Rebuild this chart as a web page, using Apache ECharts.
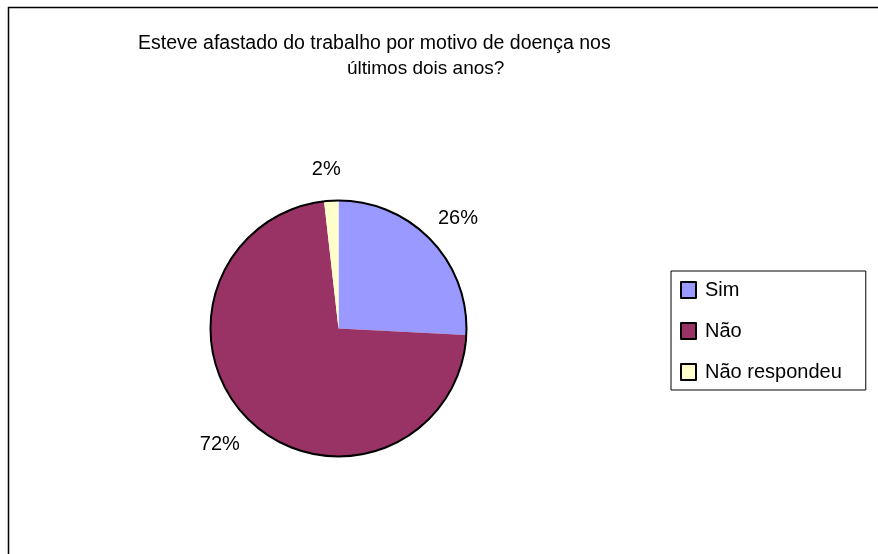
<!DOCTYPE html>
<html>
<head>
<meta charset="utf-8">
<script src="https://cdn.jsdelivr.net/npm/echarts@6/dist/echarts.min.js"></script>
<style>
  html, body { margin: 0; padding: 0; background: #fff; }
  #main { width: 878px; height: 554px; }
</style>
</head>
<body>
<div id="main"></div>
<script>
const categories = ['Sim', 'Não', 'Não respondeu'];
// slice sizes (labels show them rounded)
const values = [25.8, 72.4, 1.8];
const colors = ['#9999FF', '#993366', '#FFFFCC'];
const titleLines = ['Esteve afastado do trabalho por motivo de doença nos', 'últimos dois anos?'];

const FONT = '"Liberation Sans", Arial, sans-serif';
const pieCenter = [338.5, 328.5];
const pieRadius = 128;
const labelRadius = 149;

const total = values.reduce((a, b) => a + b, 0);

// angle (clockwise from 12 o'clock) of the middle of slice i
function midAngle(i) {
    let before = 0;
    for (let k = 0; k < i; k++) before += values[k];
    return (before + values[i] / 2) / total * 2 * Math.PI;
}

const chart = echarts.init(document.getElementById('main'), null, {renderer: 'canvas'});

const option = {
    backgroundColor: '#fff',
    animation: false,
    textStyle: {fontFamily: FONT},
    title: [
        {
            text: titleLines[0], left: 133, top: 29,
            textStyle: {fontSize: 19.5, fontWeight: 'normal', color: '#000', fontFamily: FONT}
        },
        {
            text: titleLines[1], left: 342, top: 54,
            textStyle: {fontSize: 19, fontWeight: 'normal', color: '#000', fontFamily: FONT}
        }
    ],
    legend: {
        orient: 'vertical',
        left: 671,
        top: 271,
        data: categories,
        borderColor: '#000',
        borderWidth: 1,
        padding: [9, 24, 8, 9],
        itemWidth: 15,
        itemHeight: 16,
        itemGap: 21,
        icon: 'rect',
        itemStyle: {borderColor: '#000', borderWidth: 2},
        textStyle: {fontSize: 20, color: '#000', fontFamily: FONT, lineHeight: 18, padding: [0, 0, 0, 4]}
    },
    graphic: [
        {
            type: 'rect',
            shape: {x: 8.5, y: 7.5, width: 1000, height: 1000},
            style: {fill: 'none', stroke: '#000', lineWidth: 1.5},
            silent: true
        }
    ],
    series: [
        {
            type: 'pie',
            center: pieCenter,
            radius: pieRadius,
            startAngle: 90,
            clockwise: true,
            data: categories.map((name, i) => ({
                name: name,
                value: values[i],
                itemStyle: {color: colors[i]}
            })),
            itemStyle: {borderWidth: 0},
            label: {
                show: true,
                position: 'outside',
                formatter: (p) => Math.round(p.value) + '%',
                fontSize: 20,
                color: '#000',
                fontFamily: FONT
            },
            labelLine: {show: false},
            labelLayout: (params) => {
                // put the label just outside the rim, pushed away by half its box
                const a = midAngle(params.dataIndex);
                const dx = Math.sin(a), dy = -Math.cos(a);
                const w = params.labelRect.width, h = params.labelRect.height;
                return {
                    x: pieCenter[0] + labelRadius * dx + dx * w / 2 - 3,
                    y: pieCenter[1] + labelRadius * dy + dy * h / 2,
                    align: 'center',
                    verticalAlign: 'middle'
                };
            },
            emphasis: {disabled: true}
        },
        {
            // black outline around the whole pie
            type: 'pie',
            center: pieCenter,
            radius: pieRadius,
            silent: true,
            data: [{name: 'outline', value: 1}],
            itemStyle: {color: 'rgba(0,0,0,0)', borderColor: '#000', borderWidth: 2},
            label: {show: false},
            labelLine: {show: false},
            emphasis: {disabled: true}
        }
    ]
};

chart.setOption(option);
</script>
</body>
</html>
